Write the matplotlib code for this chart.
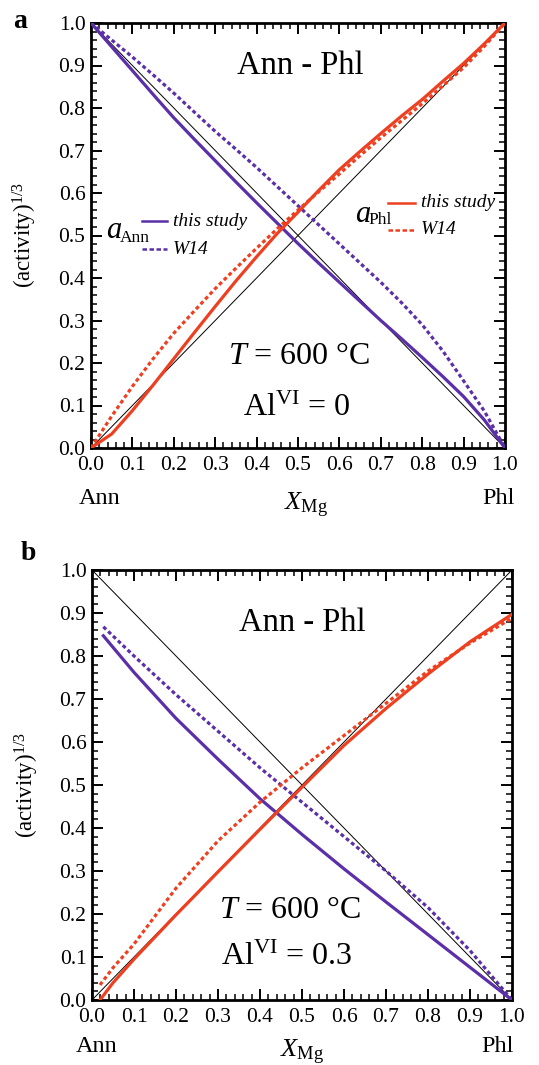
import matplotlib
matplotlib.use("Agg")
import matplotlib.pyplot as plt
from matplotlib.ticker import MultipleLocator

plt.rcParams['font.family'] = ['Liberation Serif', 'DejaVu Serif']
plt.rcParams['mathtext.fontset'] = 'custom'
plt.rcParams['mathtext.rm'] = 'Liberation Serif'
plt.rcParams['mathtext.it'] = 'Liberation Serif:italic'
plt.rcParams['mathtext.bf'] = 'Liberation Serif:bold'

PURPLE = '#5B2FA8'
RED = '#EE4020'

# ---------------- data: panel a (Al_VI = 0) ----------------
ideal_x = [0.0, 1.0]
ideal_phl = [0.0, 1.0]
ideal_ann = [1.0, 0.0]

a_x = [0.0, 0.05, 0.1, 0.15, 0.2, 0.25, 0.3, 0.35, 0.4, 0.45, 0.5,
       0.55, 0.6, 0.65, 0.7, 0.75, 0.8, 0.85, 0.9, 0.95, 1.0]
a_ann_study = [1.0, 0.944, 0.888, 0.832, 0.777, 0.726, 0.676, 0.626, 0.577, 0.529, 0.481,
               0.435, 0.39, 0.345, 0.30, 0.257, 0.213, 0.168, 0.121, 0.066, 0.0]
a_ann_w14 = [1.0, 0.96, 0.92, 0.878, 0.835, 0.79, 0.745, 0.703, 0.66, 0.615, 0.57,
             0.525, 0.48, 0.435, 0.39, 0.342, 0.29, 0.228, 0.158, 0.087, 0.0]
a_phl_study = [0.0, 0.033, 0.088, 0.148, 0.21, 0.272, 0.333, 0.393, 0.45, 0.505, 0.555,
               0.606, 0.655, 0.698, 0.74, 0.781, 0.82, 0.863, 0.905, 0.951, 1.0]
a_phl_w14 = [0.0, 0.075, 0.145, 0.21, 0.27, 0.323, 0.375, 0.423, 0.47, 0.516, 0.56,
             0.603, 0.645, 0.688, 0.73, 0.77, 0.81, 0.852, 0.895, 0.945, 1.0]

# ---------------- data: panel b (Al_VI = 0.3) ----------------
b_ann_x = [0.027, 0.1, 0.2, 0.3, 0.4, 0.5, 0.6, 0.7, 0.8, 0.9, 1.0]
b_ann_study = [0.847, 0.762, 0.655, 0.56, 0.468, 0.385, 0.305, 0.228, 0.152, 0.076, 0.0]
b_ann_w14 = [0.868, 0.80, 0.71, 0.625, 0.54, 0.46, 0.38, 0.30, 0.215, 0.115, 0.0]
b_phl_x = [0.019, 0.05, 0.1, 0.2, 0.3, 0.4, 0.5, 0.6, 0.7, 0.8, 0.9, 1.0]
b_phl_study = [0.0, 0.04, 0.095, 0.198, 0.298, 0.397, 0.495, 0.592, 0.678, 0.758, 0.833, 0.897]
b_phl_w14 = [0.035, 0.075, 0.13, 0.26, 0.37, 0.46, 0.54, 0.615, 0.69, 0.765, 0.83, 0.888]

xticks = [0.0, 0.1, 0.2, 0.3, 0.4, 0.5, 0.6, 0.7, 0.8, 0.9, 1.0]
tick_labels = ['0.0', '0.1', '0.2', '0.3', '0.4', '0.5', '0.6', '0.7', '0.8', '0.9', '1.0']

DASH = (0, (1.2, 0.9))
LW = 2.3

fig = plt.figure(figsize=(5.39, 10.65), dpi=100)
ax1 = fig.add_axes([91/539, 1-448/1065, 414/539, 425/1065])
ax2 = fig.add_axes([92/539, 1-1000/1065, 420/539, 430/1065])


def style(ax):
    ax.set_xlim(0, 1)
    ax.set_ylim(0, 1)
    ax.set_xticks(xticks)
    ax.set_xticklabels(tick_labels)
    ax.set_yticks(xticks)
    ax.set_yticklabels(tick_labels)
    ax.xaxis.set_minor_locator(MultipleLocator(0.02))
    ax.yaxis.set_minor_locator(MultipleLocator(0.02))
    ax.tick_params(which='both', direction='in', top=True, right=True,
                   labelsize=15.5)
    ax.tick_params(which='major', length=8, width=1.4)
    ax.tick_params(which='minor', length=4.5, width=1.1)
    ax.tick_params(axis='x', pad=6)
    ax.tick_params(axis='y', pad=4)
    for s in ax.spines.values():
        s.set_linewidth(2.0)
    ax.plot(ideal_x, ideal_phl, color='black', lw=0.7, zorder=2)
    ax.plot(ideal_x, ideal_ann, color='black', lw=0.7, zorder=2)


def add_labels(ax, ann_pos, xmg_pos, phl_pos, ylab_x):
    ax.text(ann_pos[0], ann_pos[1], 'Ann', transform=ax.transAxes,
            ha='center', va='center', fontsize=17.5)
    ax.text(phl_pos[0], phl_pos[1], 'Phl', transform=ax.transAxes,
            ha='center', va='center', fontsize=17.5)
    ax.text(xmg_pos[0], xmg_pos[1], r'$X_{\mathrm{Mg}}$', transform=ax.transAxes,
            ha='center', va='center', fontsize=19)
    ax.text(ylab_x, 0.5, r'(activity)$^{1/3}$', transform=ax.transAxes,
            rotation=90, ha='center', va='center', fontsize=16.5)


def sublabel(ax, x, y, main, sub, dx, dy):
    ax.text(x, y, main, style='italic', ha='left', va='baseline', fontsize=22)
    ax.text(x + dx, y + dy, sub, ha='left', va='baseline', fontsize=12.5)


# ---------- panel a ----------
style(ax1)
ax1.plot(a_x, a_ann_study, color=PURPLE, lw=LW, zorder=3)
ax1.plot(a_x, a_ann_w14, color=PURPLE, lw=LW, ls=DASH, zorder=3)
ax1.plot(a_x, a_phl_study, color=RED, lw=LW, zorder=3)
ax1.plot(a_x, a_phl_w14, color=RED, lw=LW, ls=DASH, zorder=3)

ax1.text(0.505, 0.90, 'Ann - Phl', ha='center', va='center', fontsize=23.5)
ax1.text(0.502, 0.215, r'$T$ = 600 °C', ha='center', va='center', fontsize=23)
ax1.text(0.497, 0.094, r'Al$^{\mathrm{VI}}$ = 0', ha='center', va='center', fontsize=23)

# legends drawn inside panel a
ax1.plot([0.123, 0.183], [0.534, 0.534], color=PURPLE, lw=1.8)
ax1.plot([0.123, 0.183], [0.468, 0.468], color=PURPLE, lw=1.8, ls=(0, (1.8, 1.0)))
ax1.text(0.198, 0.534, 'this study', style='italic', ha='left', va='center', fontsize=14)
ax1.text(0.198, 0.468, 'W14', style='italic', ha='left', va='center', fontsize=14)
sublabel(ax1, 0.037, 0.494, 'a', 'Ann', 0.032, -0.009)

ax1.plot([0.718, 0.783], [0.577, 0.577], color=RED, lw=1.8)
ax1.plot([0.718, 0.783], [0.513, 0.513], color=RED, lw=1.8, ls=(0, (1.8, 1.0)))
ax1.text(0.797, 0.577, 'this study', style='italic', ha='left', va='center', fontsize=14)
ax1.text(0.797, 0.513, 'W14', style='italic', ha='left', va='center', fontsize=14)
sublabel(ax1, 0.638, 0.532, 'a', 'Phl', 0.032, -0.006)

add_labels(ax1, (0.022, -0.118), (0.52, -0.135), (0.985, -0.118), -0.16)

# ---------- panel b ----------
style(ax2)
ax2.plot(b_ann_x, b_ann_study, color=PURPLE, lw=LW, zorder=3)
ax2.plot(b_ann_x, b_ann_w14, color=PURPLE, lw=LW, ls=DASH, zorder=3)
ax2.plot(b_phl_x, b_phl_study, color=RED, lw=LW, zorder=3)
ax2.plot(b_phl_x, b_phl_w14, color=RED, lw=LW, ls=DASH, zorder=3)

ax2.text(0.50, 0.877, 'Ann - Phl', ha='center', va='center', fontsize=23.5)
ax2.text(0.471, 0.209, r'$T$ = 600 °C', ha='center', va='center', fontsize=23)
ax2.text(0.464, 0.100, r'Al$^{\mathrm{VI}}$ = 0.3', ha='center', va='center', fontsize=23)

add_labels(ax2, (0.012, -0.109), (0.50, -0.122), (0.965, -0.109), -0.155)

fig.text(20/539, 1-22/1065, 'a', fontsize=20, fontweight='bold', ha='center', va='center')
fig.text(28/539, 1-553/1065, 'b', fontsize=20, fontweight='bold', ha='center', va='center')

fig.savefig('out.png', dpi=100)
